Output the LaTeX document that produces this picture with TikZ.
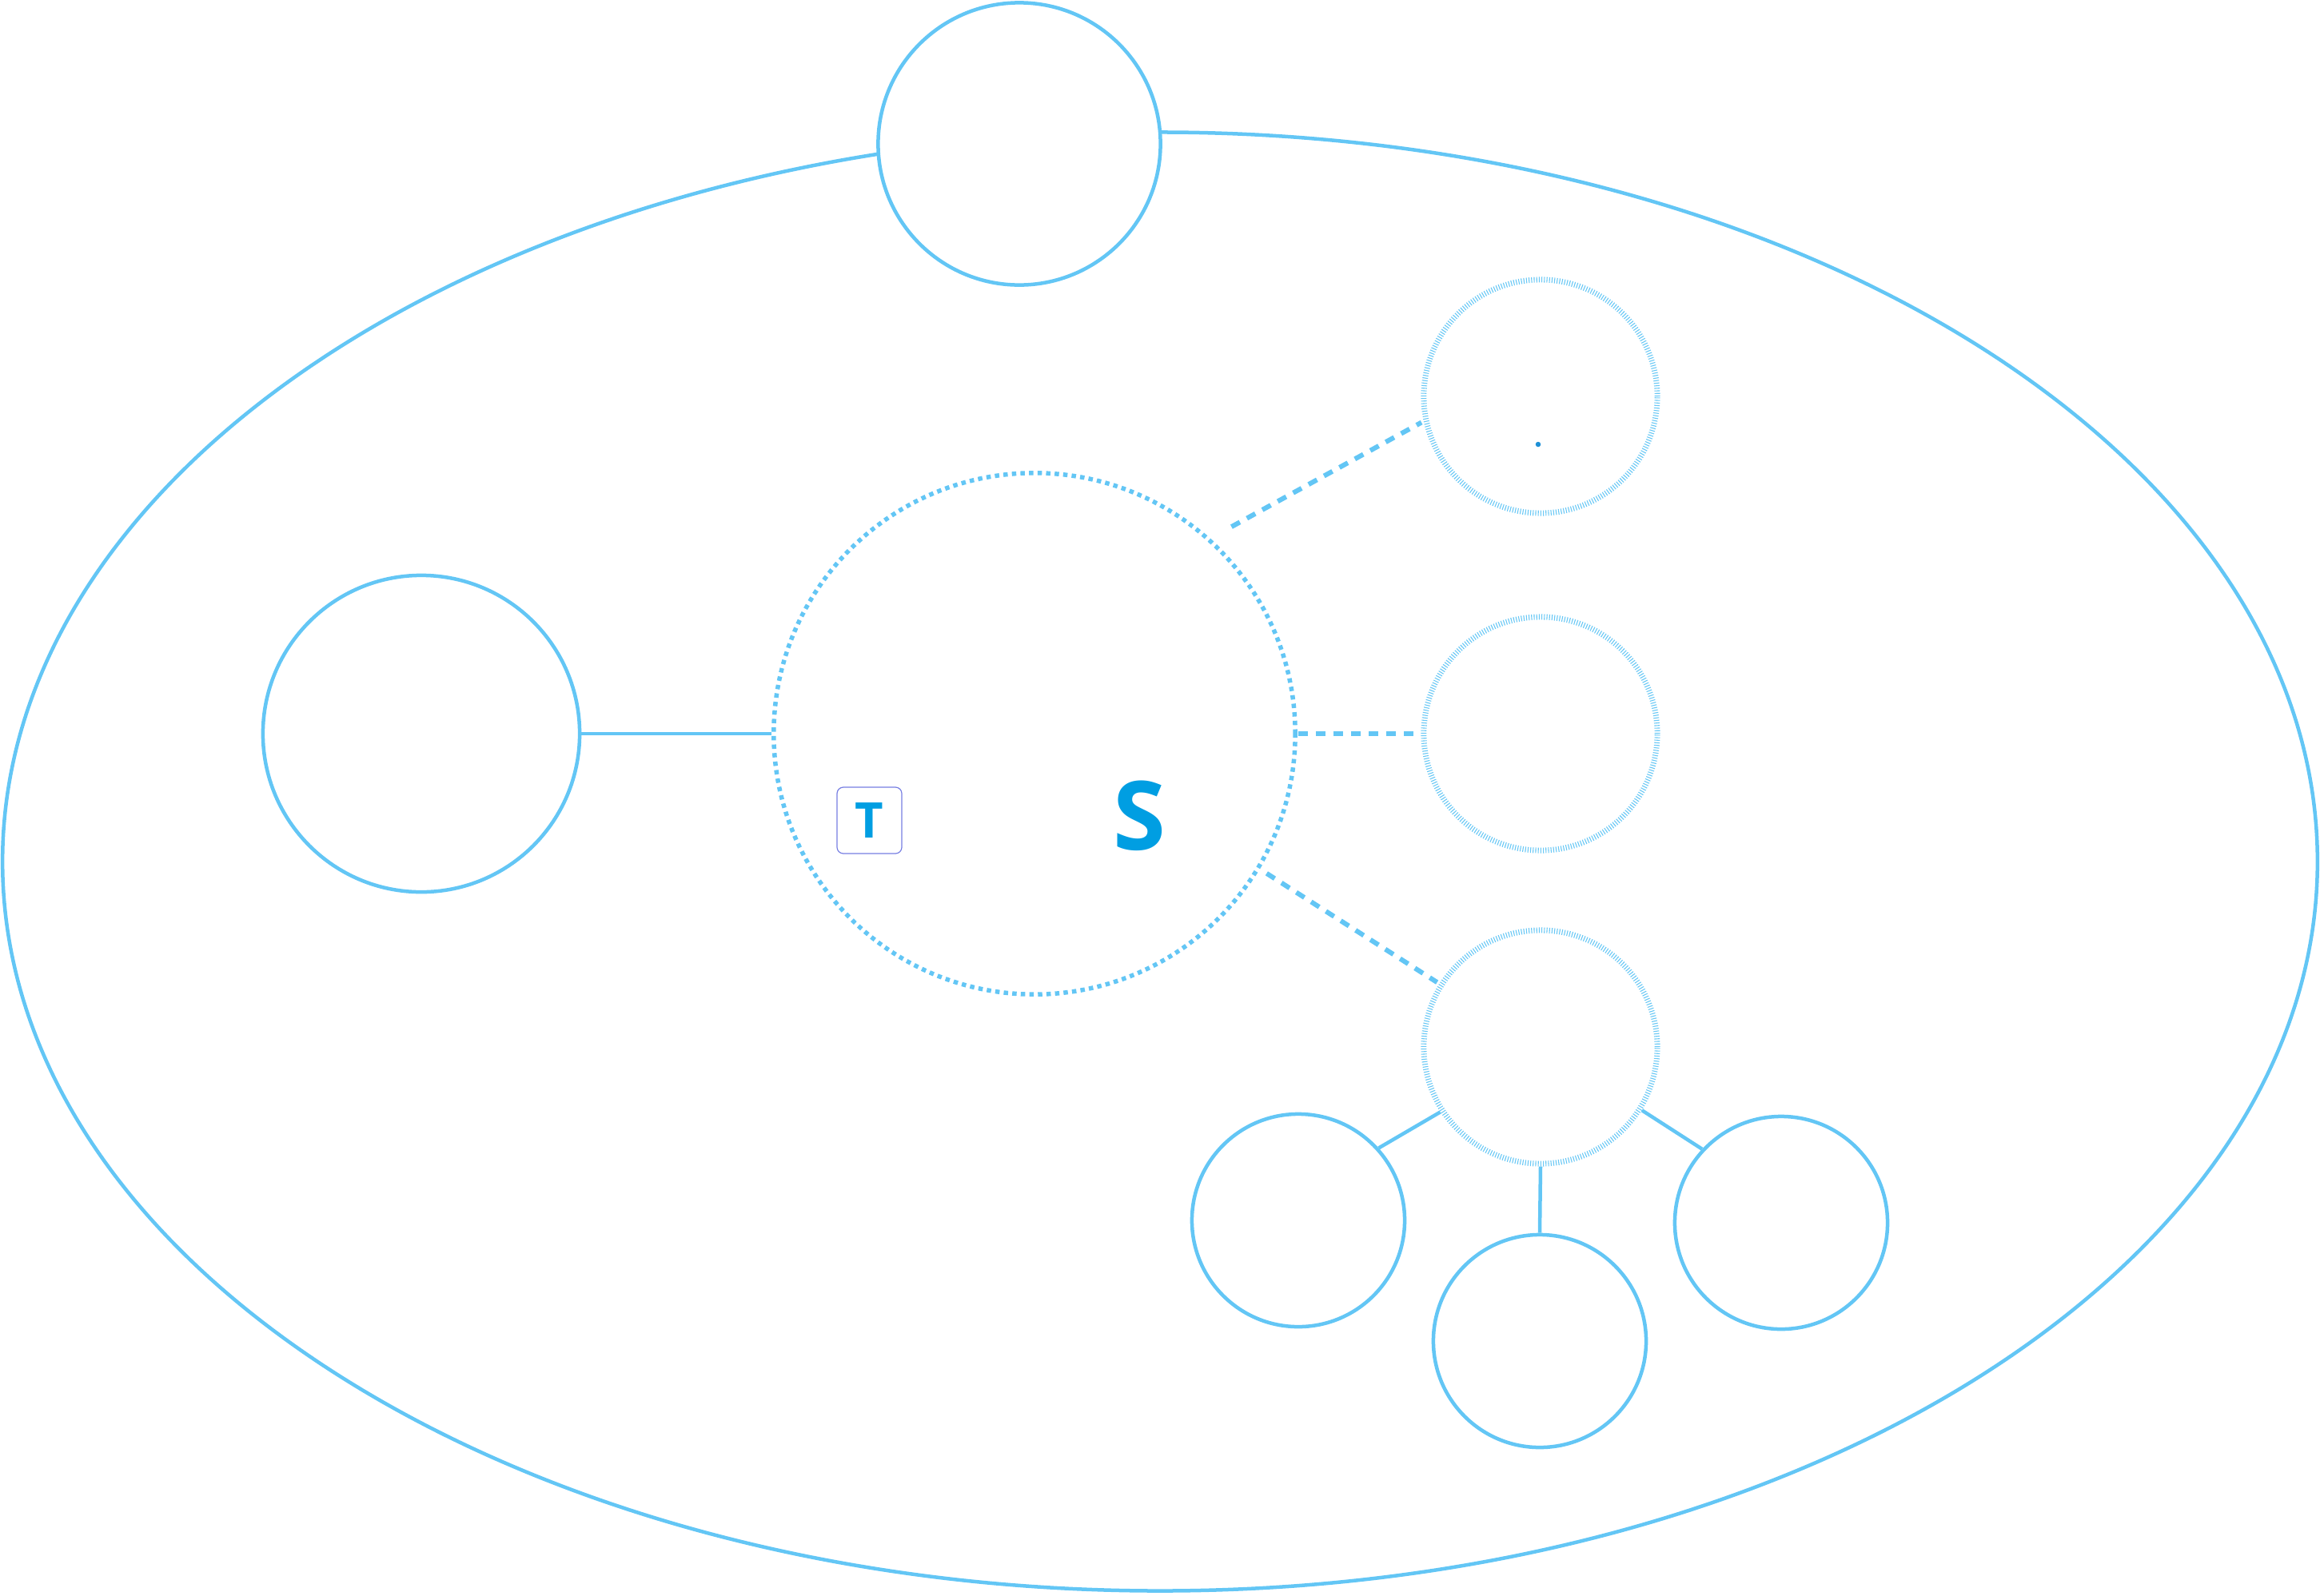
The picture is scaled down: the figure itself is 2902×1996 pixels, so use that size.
\documentclass[tikz,border=0pt]{standalone}
\usepackage{fontspec}
\newfontfamily\osans{Open Sans}
\definecolor{lb}{RGB}{99,198,245}
\definecolor{lbring}{RGB}{105,200,245}
\definecolor{tsblue}{RGB}{0,158,226}
\definecolor{dotblue}{RGB}{30,144,214}
\definecolor{boxline}{RGB}{118,126,226}
\tikzset{
  solidc/.style={circle, draw=lb, line width=0.045cm, fill=white, inner sep=0pt},
  ringc/.style={circle, draw=lbring, line width=0.07cm, dash pattern=on 0.011cm off 0.021cm, inner sep=0pt},
  dotc/.style={circle, draw=lb, line width=0.055cm, dash pattern=on 0.055cm off 0.052cm, inner sep=0pt},
  solidlink/.style={draw=lb, line width=0.045cm},
  dashlink/.style={draw=lb, line width=0.06cm, dash pattern=on 0.12cm off 0.10cm},
  tbox/.style={rectangle, rounded corners=0.08cm, draw=boxline, line width=0.012cm, minimum width=0.81cm, minimum height=0.83cm, inner sep=0pt, text=tsblue, font=\osans\bfseries\fontsize{17.5}{20}\selectfont},
  sletter/.style={inner sep=0pt, text=tsblue, font=\osans\bfseries\fontsize{34}{38}\selectfont}
}
\begin{document}
\begin{tikzpicture}[x=0.01cm,y=-0.01cm]
\useasboundingbox (0,0) rectangle (2902,1996);
% outer ellipse
\draw[draw=lb, line width=0.045cm] (1451,1078) ellipse [x radius=14.47cm, y radius=9.12cm];
% circles
\node[solidc, minimum size=3.53cm] (top) at (1275,180) {};
\node[solidc, minimum size=3.96cm] (left) at (527,918) {};
\node[dotc, minimum size=6.52cm] (central) at (1294,918) {};
\node[ringc, minimum size=2.92cm] (tr) at (1927,496) {};
\node[ringc, minimum size=2.92cm] (mr) at (1927,918) {};
\node[ringc, minimum size=2.92cm] (lr) at (1927,1310) {};
\node[solidc, minimum size=2.66cm] (bl) at (1624,1527) {};
\node[solidc, minimum size=2.66cm] (bm) at (1926,1678) {};
\node[solidc, minimum size=2.66cm] (br) at (2228,1530) {};
% small dot
\node[circle, fill=dotblue, inner sep=0pt, minimum size=0.065cm] (dot) at (1924,556) {};
% labels
\node[tbox] (tkey) at (1087.5,1026.5) {T};
\node[sletter] (skey) at (1425,1021) {S};
% connectors
\draw[solidlink] (left.east) -- (central.west);
\draw[dashlink, shorten <=0.3cm, shorten >=0.03cm] (central.48) -- (tr.192.5);
\draw[dashlink, shorten <=0.01cm, shorten >=0.06cm] (central.east) -- (mr.west);
\draw[dashlink, shorten <=0.1cm, shorten >=0.03cm] (central.-31) -- (lr.148);
\draw[solidlink] (lr.213) -- (bl.42);
\draw[solidlink] (lr.south) -- (bm.north);
\draw[solidlink] (lr.-32) -- (br.137);
\end{tikzpicture}
\end{document}
